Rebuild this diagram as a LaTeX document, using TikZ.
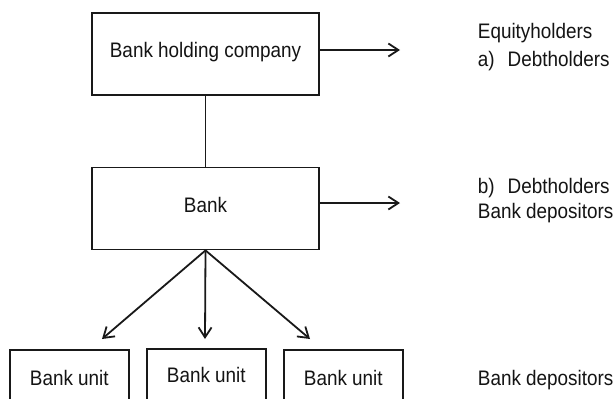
\documentclass[tikz,border=0pt]{standalone}
\usepackage{fontspec}
\setmainfont{Liberation Sans}[FakeStretch=0.9]
\usetikzlibrary{arrows.meta}
\begin{document}
\begin{tikzpicture}[x=1pt,y=-1pt,
  line width=1.8pt, draw={rgb,255:red,25;green,25;blue,25},
  txt/.style={font=\fontsize{21}{25}\selectfont, text={rgb,255:red,20;green,20;blue,20}, inner sep=0pt},
  box/.style={draw, rectangle, minimum width=227pt, minimum height=82pt, inner sep=0pt},
  unitbox/.style={draw, rectangle, minimum width=119pt, minimum height=80pt, inner sep=0pt},
  arr/.style={-{Straight Barb[length=10pt,width=13pt,line width=1.8pt]}},
  lbl/.style={txt, anchor=base west}]
\useasboundingbox (0,0) rectangle (614,399);
\clip (0,0) rectangle (614,399);
\fill[white] (0,0) rectangle (614,399);
\node[box] (bhc) at (205.5,54) {};
\node[txt] at (205.5,52) {Bank holding company};
\node[box] (bank) at (205.5,208.5) {};
\node[txt] at (205.5,205) {Bank};
\node[unitbox] (u1) at (69.5,390) {};
\node[unitbox] (u2) at (206.5,389) {};
\node[unitbox] (u3) at (343.5,390) {};
\node[lbl] at (29,385) {Bank unit};
\node[lbl] at (166,382) {Bank unit};
\node[lbl] at (303,385) {Bank unit};
\coordinate (e1) at (400,50);
\coordinate (e2) at (400,203);
\coordinate (t1) at (102,339);
\coordinate (t2) at (205,339);
\coordinate (t3) at (310,339);
\draw (bhc.south) -- (bank.north);
\draw[arr] (bhc.east |- e1) -- (e1);
\draw[arr] (bank.east |- e2) -- (e2);
\draw[arr] (bank.south) -- (t1);
\draw[arr] (bank.south) -- (t2);
\draw[arr] (bank.south) -- (t3);
\node[lbl] (eq) at (477,38) {Equityholders};
\node[lbl] (da) at (477,66) {a)\hspace{13pt}Debtholders};
\node[lbl] (db) at (477,193) {b)\hspace{13pt}Debtholders};
\node[lbl] (bd1) at (477,218) {Bank depositors};
\node[lbl] (bd2) at (477,385) {Bank depositors};
\end{tikzpicture}
\end{document}
